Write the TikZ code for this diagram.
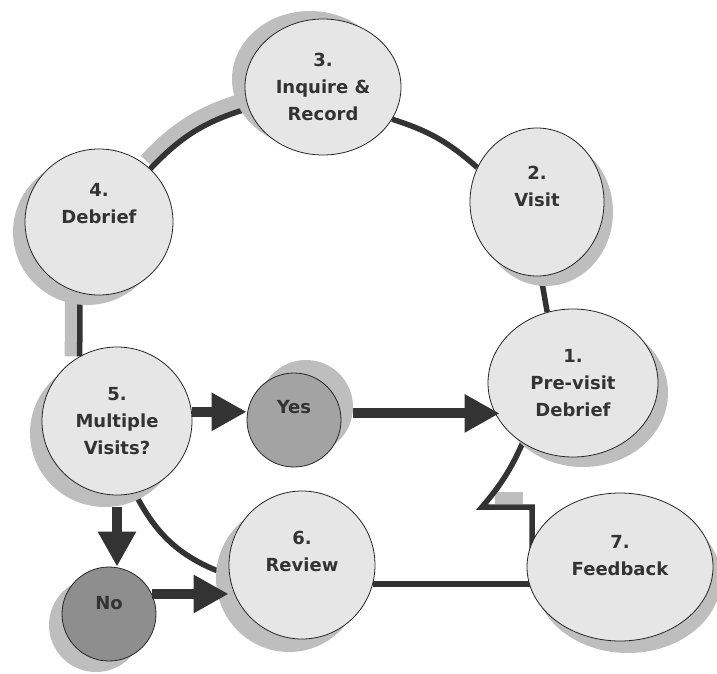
\documentclass[tikz,border=0pt]{standalone}
\usepackage{fontspec}
\setmainfont{DejaVu Sans}
\usepackage{xcolor}
\usepackage{tikz}
\usetikzlibrary{arrows.meta,
                backgrounds,
                shadows,
                shapes.geometric}

\definecolor{ink}{HTML}{333333}
\definecolor{greyshadow}{HTML}{BEBEBE}
\definecolor{stagefill}{HTML}{E6E6E6}
\definecolor{yesfill}{HTML}{A3A3A3}
\definecolor{nofill}{HTML}{8E8E8E}

\tikzset{
  stage/.style={ellipse, draw=black!85, line width=0.8pt, inner sep=0pt},
  lbl/.style={font=\bfseries\fontsize{18}{27}\selectfont, text=ink,
              align=center, inner sep=0pt},
  link/.style={draw=ink, line width=5.5pt},
  band/.style={draw=greyshadow, line width=16pt},
  fat arrow/.style={draw=ink, line width=10pt,
                    -{Triangle[length=35pt,width=36pt]}}
}

\begin{document}
\begin{tikzpicture}[x=1pt, y=-1pt]
\useasboundingbox (0,0) rectangle (717,674);

\foreach \n/\x/\y/\w/\h/\c/\sx/\sy/\up/\t in {
  s1/573/383/170/148/stagefill/10pt/-10pt/0/{1.\\Pre-visit\\Debrief},
  s2/537/202/134/148/stagefill/9pt/-10pt/16/{2.\\Visit},
  s3/323/87/156/136/stagefill/-13pt/8pt/0/{3.\\Inquire \&\\Record},
  s4/99/222/148/146/stagefill/-12pt/-10pt/18/{4.\\Debrief},
  s5/117/421/150/148/stagefill/-12pt/-12pt/0/{5.\\Multiple\\Visits?},
  s6/302/565/146/148/stagefill/-13pt/-13pt/14/{6.\\Review},
  s7/620/567/186/148/stagefill/8pt/-12pt/11/{7.\\Feedback},
  yes/294/420/94/94/yesfill/12pt/13pt/13/{Yes},
  no/109/614/94/94/nofill/-13pt/-11pt/11/{No}}
{
  \node[stage, fill=\c, minimum width=\w, minimum height=\h,
        drop shadow={shadow xshift=\sx, shadow yshift=\sy,
                     fill=greyshadow, opacity=1}]
    (\n) at (\x,\y) {};
  \node[lbl] (\n-txt) at ([yshift=\up pt]\n.center) {\t};
}

% the loop round the stages
\begin{scope}[on background layer]
  \draw[band, line width=18pt] ([shift={(-3pt,7pt)}]s4.46) to[bend left=15] ([shift={(-3pt,7pt)}]s3.196);
  \draw[band] ([xshift=-7pt]s4.255) -- ([xshift=-7pt]s5.120);
  \fill[greyshadow] (495,492) rectangle (523,504);

  \draw[link] (s4.46) to[bend left=15] (s3.196);
  \draw[link] (s3.-25) to[bend left=12] (s2.150);
  \draw[link] (s2.-87) -- (s1.110);
  \draw[link] (s4.255) -- (s5.120);
  \draw[link] (s5.-76) to[bend right=22] (s6.188);

  \coordinate (zig) at (482,507);
  \coordinate (zag) at (532,507);
  \draw[link] (s1.230) to[bend left=8] (zig) -- (zag) -- (zag |- s7);
  \draw[link] (s6.-15) -- (s6.-15 -| s7);
\end{scope}

\draw[fat arrow] (s5.7) -- (s5.7 -| yes.west);
\draw[fat arrow] ([xshift=12pt]yes.8) -- ([xshift=12pt]yes.8 -| s1.west);
\draw[fat arrow] ([yshift=-12pt]s5.south) -- (s5.south |- no.north);
\draw[fat arrow] (no.25) -- (no.25 -| s6.west);
\end{tikzpicture}
\end{document}
